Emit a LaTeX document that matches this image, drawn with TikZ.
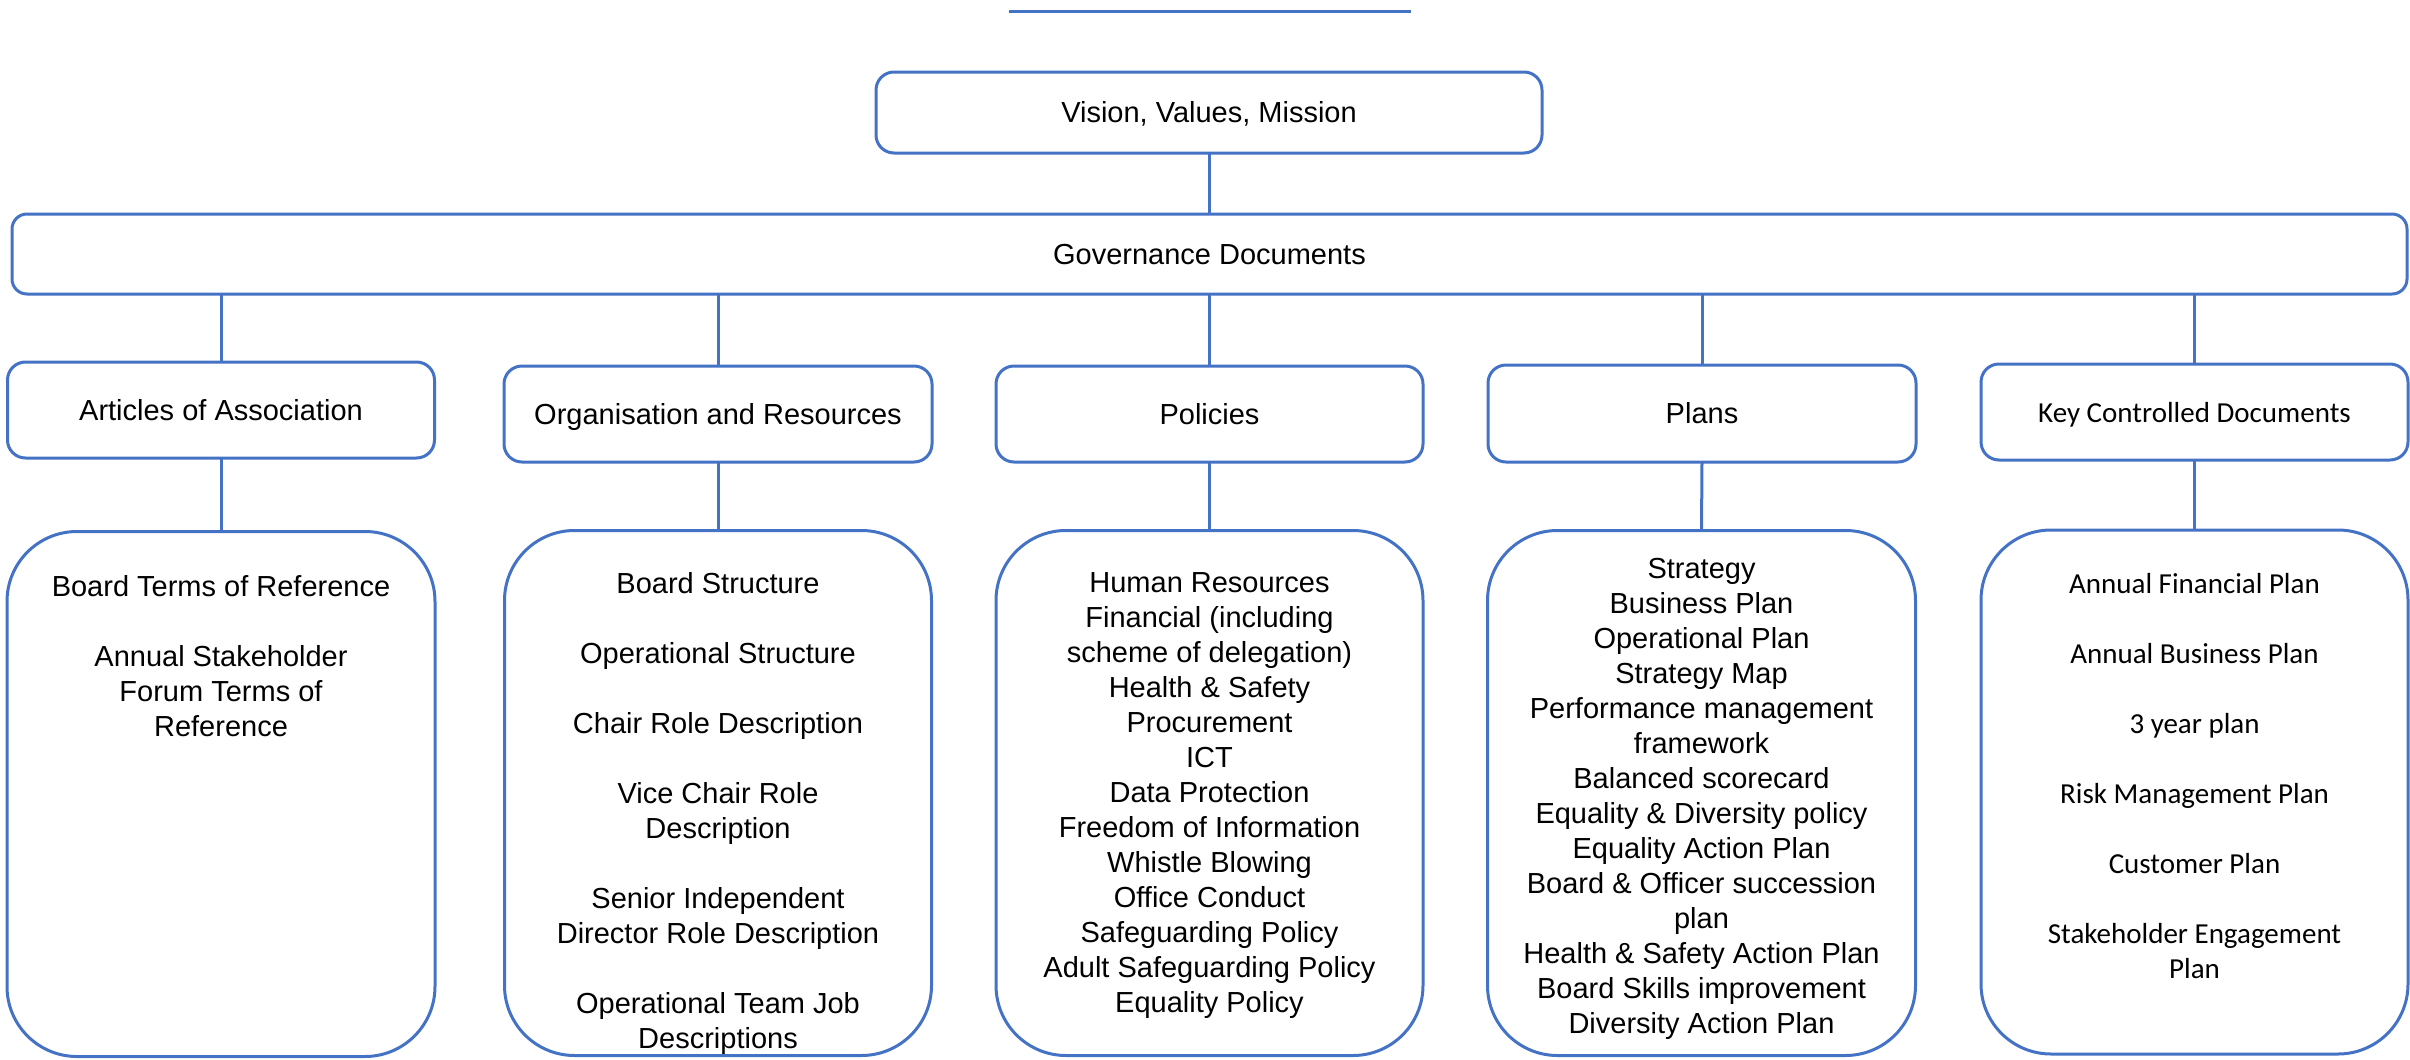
\documentclass[tikz,border=0pt]{standalone}
\usepackage{fontspec}
\setmainfont{Liberation Sans}
\newfontfamily\calib{Carlito}
\definecolor{blu}{HTML}{4472C4}
\begin{document}
\begin{tikzpicture}[x=1pt,y=-1pt,
  conn/.style={draw=blu,line width=3pt},
  hbox/.style={draw=blu,line width=3pt,rounded corners=18pt,inner sep=0pt,outer sep=0pt,
    text height=20pt,text depth=0pt,
    font=\fontsize{29}{35}\selectfont,align=center},
  bigbox/.style={draw=blu,line width=3pt,rounded corners=70pt,inner sep=0pt,outer sep=0pt},
  txt/.style={inner sep=0pt,align=center,font=\fontsize{29}{35}\selectfont},
  ktxt/.style={inner sep=0pt,align=center,font=\calib\fontsize{29}{35}\selectfont}]
\useasboundingbox (0,0) rectangle (2410,1060);

% top line
\coordinate (tl) at (1009,11);
\coordinate (tr) at (1411,11);
\draw[conn] (tl) -- (tr);

% upper boxes
\node[hbox,minimum width=666pt,minimum height=81pt] (vision) at (1209,112.5) {Vision, Values, Mission};
\node[hbox,rounded corners=15pt,minimum width=2395pt,minimum height=80pt] (gov) at (1209.5,254) {Governance Documents};

% second row
\node[hbox,minimum width=427pt,minimum height=96pt] (art) at (221,410) {Articles of Association};
\node[hbox,minimum width=428pt,minimum height=96pt] (org) at (718,414) {Organisation and Resources};
\node[hbox,minimum width=427pt,minimum height=96pt] (pol) at (1209.5,414) {Policies};
\node[hbox,minimum width=428pt,minimum height=97pt] (pla) at (1702,413.5) {Plans};
\node[hbox,minimum width=427pt,minimum height=96pt,font=\calib\fontsize{29}{35}\selectfont] (key) at (2194.5,412) {Key Controlled Documents};

% bottom boxes
\node[bigbox,minimum width=428pt,minimum height=525pt] (b1) at (221,794) {};
\node[bigbox,minimum width=427pt,minimum height=525pt] (b2) at (718,793) {};
\node[bigbox,minimum width=427pt,minimum height=525pt] (b3) at (1209.5,793) {};
\node[bigbox,minimum width=428pt,minimum height=525pt] (b4) at (1701.5,793) {};
\node[bigbox,minimum width=427pt,minimum height=524pt] (b5) at (2194.5,792) {};

% texts in bottom boxes
\node[txt] (t1) at (221,656) {Board Terms of Reference\\[35pt]Annual Stakeholder\\Forum Terms of\\Reference};
\node[txt] (t2) at (718,813.5) {Board Structure\\[35pt]Operational Structure\\[35pt]Chair Role Description\\[35pt]Vice Chair Role\\Description\\[35pt]Senior Independent\\Director Role Description\\[35pt]Operational Team Job\\Descriptions};
\node[txt] (t3) at (1209.5,796) {Human Resources\\Financial (including\\scheme of delegation)\\Health \& Safety\\Procurement\\ICT\\Data Protection\\Freedom of Information\\Whistle Blowing\\Office Conduct\\Safeguarding Policy\\Adult Safeguarding Policy\\Equality Policy};
\node[txt] (t4) at (1701.5,799) {Strategy\\Business Plan\\Operational Plan\\Strategy Map\\Performance management\\framework\\Balanced scorecard\\Equality \& Diversity policy\\Equality Action Plan\\Board \& Officer succession\\plan\\Health \& Safety Action Plan\\Board Skills improvement\\Diversity Action Plan};
\node[ktxt] (t5) at (2194.5,776.5) {Annual Financial Plan\\[35pt]Annual Business Plan\\[35pt]3 year plan\\[35pt]Risk Management Plan\\[35pt]Customer Plan\\[35pt]Stakeholder Engagement\\Plan};

% connectors
\draw[conn] (vision.south) -- (vision.south |- gov.north);
\foreach \n in {art,org,pol,pla,key}{
  \draw[conn] (\n.north) -- (\n.north |- gov.south);
}
\draw[conn] (art.south) -- (b1.north);
\draw[conn] (org.south) -- (b2.north);
\draw[conn] (pol.south) -- (b3.north);
\draw[conn] (pla.south) -- (b4.north);
\draw[conn] (key.south) -- (b5.north);
\end{tikzpicture}
\end{document}
